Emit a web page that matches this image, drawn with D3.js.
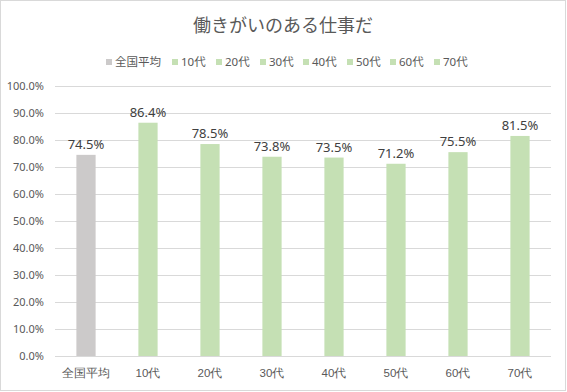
<!DOCTYPE html>
<html>
<head>
<meta charset="utf-8">
<script src="https://cdn.jsdelivr.net/npm/d3@7"></script>
<style>
  body { margin: 0; background: #fff; }
  svg { font-family: "Noto Sans", "Noto Sans CJK JP", sans-serif; }
</style>
</head>
<body>
<div id="chart"></div>
<script>
// datos
const categorias = ["全国平均", "10代", "20代", "30代", "40代", "50代", "60代", "70代"];
const valores = [74.5, 86.4, 78.5, 73.8, 73.5, 71.2, 75.5, 81.5];
const colores = ["#cccaca", "#c5e0b4", "#c5e0b4", "#c5e0b4", "#c5e0b4", "#c5e0b4", "#c5e0b4", "#c5e0b4"];
const ticksY = [0, 10, 20, 30, 40, 50, 60, 70, 80, 90, 100];

const width = 567, height = 392;
const margin = { top: 86, right: 16, bottom: 36, left: 55 };

const svg = d3.select("#chart").append("svg")
    .attr("width", width)
    .attr("height", height);

// borde exterior
svg.append("rect")
    .attr("x", 0.5).attr("y", 0.5)
    .attr("width", width - 2).attr("height", height - 2)
    .attr("fill", "#fff")
    .attr("stroke", "#d9d9d9");

const x = d3.scaleBand()
    .domain(categorias)
    .range([margin.left, width - margin.right])
    .paddingInner(0.69)
    .paddingOuter(0.345);

const y = d3.scaleLinear()
    .domain([0, 100])
    .range([height - margin.bottom, margin.top]);

// líneas de la grilla
svg.append("g")
    .selectAll("line")
    .data(ticksY)
    .enter().append("line")
    .attr("x1", margin.left)
    .attr("x2", width - margin.right)
    .attr("y1", d => y(d) + 0.5)
    .attr("y2", d => y(d) + 0.5)
    .attr("stroke", "#d9d9d9")
    .attr("stroke-width", 1);

// eje Y
const ejeY = svg.append("g")
    .attr("transform", `translate(${margin.left - 8},0)`)
    .call(d3.axisLeft(y).tickValues(ticksY).tickSize(0).tickFormat(d => d.toFixed(1) + "%"));
ejeY.select(".domain").remove();
ejeY.selectAll("text")
    .attr("fill", "#595959")
    .attr("font-size", "11px")
    .attr("font-family", "'Noto Sans', sans-serif");

// eje X
const ejeX = svg.append("g")
    .attr("transform", `translate(0,${height - margin.bottom + 10})`)
    .call(d3.axisBottom(x).tickSize(0));
ejeX.select(".domain").remove();
ejeX.selectAll("text")
    .attr("fill", "#595959")
    .attr("font-size", "11.5px");

// barras
svg.append("g")
    .selectAll("rect")
    .data(valores)
    .enter().append("rect")
    .attr("x", (d, i) => x(categorias[i]))
    .attr("y", d => y(d))
    .attr("width", x.bandwidth())
    .attr("height", d => y(0) - y(d))
    .attr("fill", (d, i) => colores[i]);

// etiquetas de datos
svg.append("g")
    .selectAll("text")
    .data(valores)
    .enter().append("text")
    .attr("x", (d, i) => x(categorias[i]) + x.bandwidth() / 2)
    .attr("y", d => y(d) - 6)
    .attr("text-anchor", "middle")
    .attr("fill", "#404040")
    .attr("font-size", "13px")
    .text(d => d.toFixed(1) + "%");

// título
svg.append("text")
    .attr("x", 283)
    .attr("y", 32)
    .attr("text-anchor", "middle")
    .attr("fill", "#595959")
    .attr("font-size", "18px")
    .attr("font-family", "'Noto Sans CJK JP', sans-serif")
    .text("働きがいのある仕事だ");

// leyenda
const leyendaX = [106, 172, 216, 260, 303, 347, 390, 434];
const leyenda = svg.append("g")
    .selectAll("g")
    .data(categorias)
    .enter().append("g")
    .attr("transform", (d, i) => `translate(${leyendaX[i]},62)`);
leyenda.append("rect")
    .attr("x", 0).attr("y", -3)
    .attr("width", 6).attr("height", 6)
    .attr("fill", (d, i) => colores[i]);
leyenda.append("text")
    .attr("x", 9)
    .attr("y", 4)
    .attr("fill", "#595959")
    .attr("font-size", "11.5px")
    .text(d => d);
</script>
</body>
</html>
